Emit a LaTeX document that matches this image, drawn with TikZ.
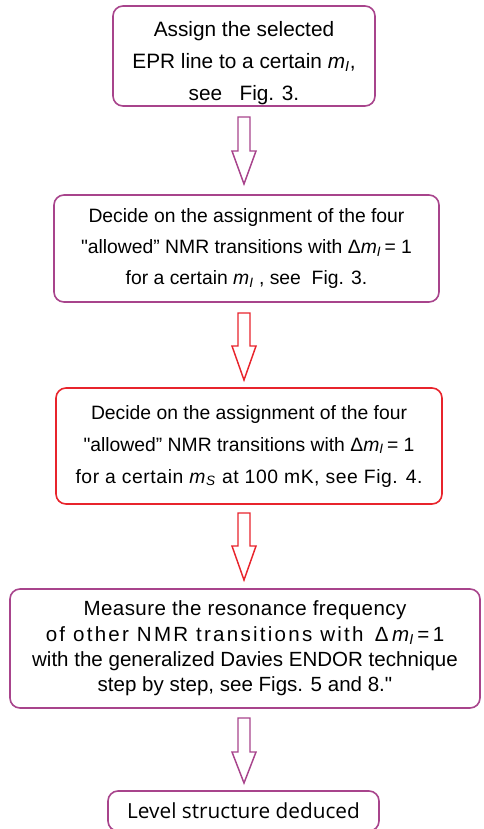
\documentclass[tikz,border=0pt]{standalone}
\usepackage{fontspec}
\setmainfont{Liberation Sans}
\newfontfamily\lvlfont{Open Sans}
\definecolor{pur}{RGB}{168,68,140}
\definecolor{rd}{RGB}{232,36,44}
\newcommand{\mI}{\textit{m}\textsubscript{\textit{I}}}
\newcommand{\mS}{\textit{m}\textsubscript{\textit{S}}}
\newcommand{\sq}{{\addfontfeature{Ligatures=TeXOff}"}}
\newcommand{\blockarrow}[4]{%
  \draw[#1, line width=1.1pt, line join=miter]
    (238,#2) -- (250,#2) -- (250,#3) -- (256,#3) -- (244,#4) -- (232,#3) -- (238,#3) -- cycle;}
\begin{document}
\begin{tikzpicture}[x=0.75pt,y=-0.75pt,
  box/.style={draw=#1, rounded corners=7.5pt, line width=1.2pt, align=center, inner sep=0pt, text=black},
  f1/.style={font=\fontsize{15.6}{24}\selectfont},
  f2/.style={font=\fontsize{14.5}{23}\selectfont},
  f3/.style={font=\fontsize{14.5}{24}\selectfont},
  f4/.style={font=\fontsize{15.4}{19}\selectfont}]
\useasboundingbox (0,0) rectangle (483,829);
\node[box=pur, f1, minimum width=196.5pt, minimum height=75pt] (b1) at (244,56)
  {\rule{0pt}{22pt}Assign the selected\\ EPR line to a certain \mI,\\ see\ \ \ Fig. 3.};
\node[box=pur, f2, minimum width=288.75pt, minimum height=80.25pt] (b2) at (246.5,248.5)
  {Decide on the assignment of the four\\ \sq allowed” NMR transitions with Δ\mI\,= 1\\ for a certain \mI\ , see\ \ Fig. 3.};
\node[box=rd, f3, minimum width=289.5pt, minimum height=87pt] (b3) at (249,446)
  {Decide on the assignment of the four\\ \sq allowed” NMR transitions with Δ\mI\,= 1\\ {\addfontfeature{LetterSpace=3}for a certain \mS\ at 100 mK, see Fig. 4.}};
\node[box=pur, f4, minimum width=352.5pt, minimum height=89.25pt] (b4) at (245,648.5)
  {{\addfontfeature{LetterSpace=2}Measure the resonance frequency}\\ {\addfontfeature{LetterSpace=11}of other NMR transitions with}\ \ Δ\,\mI\,=\,1\\ with the generalized Davies ENDOR technique\\ step by step, see Figs. 5 and 8.\sq};
\node[box=pur, font=\lvlfont\fontsize{15.6}{16}\selectfont, minimum width=203.25pt, minimum height=30pt] (b5) at (243.5,811)
  {Level structure deduced};
\blockarrow{pur}{117}{151}{184}
\blockarrow{rd}{313}{346}{380}
\blockarrow{rd}{513}{546}{580}
\blockarrow{pur}{718}{752}{783}
\end{tikzpicture}
\end{document}
